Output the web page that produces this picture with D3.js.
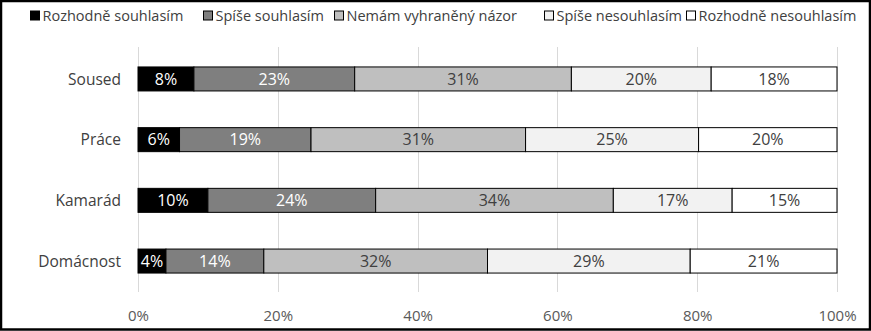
<!DOCTYPE html>
<html><head><meta charset="utf-8">
<script src="https://cdn.jsdelivr.net/npm/d3@7"></script>
<style>body{margin:0;background:#fff}svg{display:block}text{font-family:"Open Sans",sans-serif}</style>
</head><body><svg id="c" width="871" height="331"></svg>
<script>
const categories = ["Soused", "Práce", "Kamarád", "Domácnost"];
const seriesNames = ["Rozhodně souhlasím", "Spíše souhlasím", "Nemám vyhraněný názor", "Spíše nesouhlasím", "Rozhodně nesouhlasím"];
const rozhodneSouhlasim = [8, 6, 10, 4];
const spiseSouhlasim = [23, 19, 24, 14];
const nemamNazor = [31, 31, 34, 32];
const spiseNesouhlasim = [20, 25, 17, 29];
const rozhodneNesouhlasim = [18, 20, 15, 21];
const tickValues = [0, 0.2, 0.4, 0.6, 0.8, 1];

const colors = ["#000000", "#7f7f7f", "#bfbfbf", "#f2f2f2", "#ffffff"];
const labelColors = ["#ffffff", "#ffffff", "#404040", "#404040", "#404040"];

const seriesValues = [rozhodneSouhlasim, spiseSouhlasim, nemamNazor, spiseNesouhlasim, rozhodneNesouhlasim];
const rows = categories.map((c, i) => {
  const o = {cat: c};
  seriesNames.forEach((s, j) => o[s] = seriesValues[j][i]);
  return o;
});

const svg = d3.select("#c");
const W = 871, H = 331;
const x = d3.scaleLinear().domain([0, 1]).range([138, 837]);
const y = d3.scaleBand().domain(categories).range([48.6, 291.4]).paddingInner(0.6).paddingOuter(0.3);

const stack = d3.stack().keys(seriesNames).offset(d3.stackOffsetExpand);
const stacked = stack(rows);

// gridlines
svg.append("g").selectAll("line").data(tickValues).join("line")
  .attr("x1", d => Math.round(x(d)) + 0.5).attr("x2", d => Math.round(x(d)) + 0.5)
  .attr("y1", 47).attr("y2", 292)
  .attr("stroke", "#d9d9d9").attr("stroke-width", 1);

// bars
const bw = 24;
const g = svg.append("g");
stacked.forEach((layer, j) => {
  g.selectAll(null).data(layer).join("rect")
    .attr("x", d => x(d[0]))
    .attr("y", d => y(d.data.cat) + y.bandwidth() / 2 - bw / 2)
    .attr("width", d => x(d[1]) - x(d[0]))
    .attr("height", bw)
    .attr("fill", colors[j])
    .attr("stroke", "#000").attr("stroke-width", 1);
  g.selectAll(null).data(layer).join("text")
    .attr("x", d => (x(d[0]) + x(d[1])) / 2)
    .attr("y", d => y(d.data.cat) + y.bandwidth() / 2)
    .attr("dy", "0.36em")
    .attr("text-anchor", "middle")
    .attr("font-size", 16)
    .attr("fill", labelColors[j])
    .text(d => d.data[layer.key] + "%");
});

// category labels
svg.append("g").selectAll("text").data(categories).join("text")
  .attr("x", 121).attr("y", d => y(d) + y.bandwidth() / 2)
  .attr("dy", "0.36em").attr("text-anchor", "end")
  .attr("font-size", 15.5).attr("fill", "#404040")
  .text(d => d);

// x axis
const xAxis = d3.axisBottom(x).tickValues(tickValues).tickFormat(d3.format(".0%")).tickSize(0).tickPadding(0);
const ax = svg.append("g").attr("transform", "translate(0,316)").call(xAxis);
ax.select(".domain").remove();
ax.selectAll("text").attr("font-size", 15).attr("fill", "#595959").attr("dy", "0.36em").attr("y", 0)
  .style("font-family", '"Open Sans",sans-serif');

// legend
const leg = svg.append("g");
const items = leg.selectAll("g").data(seriesNames).join("g");
items.append("rect").attr("width", 9).attr("height", 9).attr("y", -4.5)
  .attr("fill", (d, i) => colors[i]).attr("stroke", "#000").attr("stroke-width", 1);
items.append("text").attr("x", 12).attr("dy", "0.36em").attr("font-size", 14.5).attr("fill", "#404040").text(d => d);
const starts = [30, 203, 334, 544, 686];
items.attr("transform", (d, i) => `translate(${starts[i] + 0.5},15.5)`);

// border
svg.append("rect").attr("x", 1).attr("y", 1).attr("width", W - 2).attr("height", H - 2.5)
  .attr("fill", "none").attr("stroke", "#000").attr("stroke-width", 2.5);
</script></body></html>
